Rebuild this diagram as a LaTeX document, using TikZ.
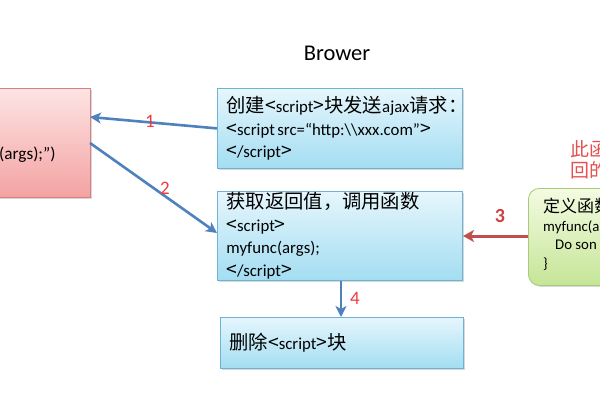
\documentclass[tikz,border=0pt]{standalone}
\usepackage{fontspec}
\setmainfont{Carlito}
\newfontfamily\cjk{Noto Sans CJK SC}[Scale=1.15]
\usetikzlibrary{arrows.meta,shadows}
\newcommand\zh[1]{{\cjk #1}}
\newcommand\ltag{{\cjk <}}
\newcommand\rtag{{\cjk >}}
\definecolor{blueborder}{HTML}{6FB3D2}
\definecolor{bluetop}{HTML}{E6F6FD}
\definecolor{bluebot}{HTML}{A3DDF2}
\definecolor{redborder}{HTML}{D88080}
\definecolor{redtop}{HTML}{FDE4E4}
\definecolor{redbot}{HTML}{F4A2A2}
\definecolor{greenborder}{HTML}{A9C97C}
\definecolor{greentop}{HTML}{F4FBE1}
\definecolor{greenbot}{HTML}{C5E597}
\definecolor{arrowblue}{HTML}{4F81BD}
\definecolor{arrowred}{HTML}{C0504D}
\definecolor{numred}{HTML}{F03C3C}
\definecolor{notered}{HTML}{E65050}
\tikzset{
  boxshadow/.style={drop shadow={shadow xshift=1.5pt,shadow yshift=-1.5pt,opacity=0.3}},
  bluebox/.style={draw=blueborder, line width=0.8pt, top color=bluetop, bottom color=bluebot,
    boxshadow, anchor=north west, inner xsep=9pt, inner ysep=0pt, align=left,
    font=\fontsize{16.8}{22.5}\selectfont},
  conn/.style={draw=arrowblue, line width=2.6pt, -{Stealth[length=11pt,width=11pt,inset=3pt]}},
  connred/.style={draw=arrowred, line width=3pt, -{Stealth[length=11pt,width=12pt,inset=3pt]}},
  num/.style={text=numred, font=\fontsize{19}{19}\selectfont}
}
\begin{document}
\begin{tikzpicture}[x=1pt,y=-1pt]
\useasboundingbox (0,0) rectangle (600,400);
\fill[white] (0,0) rectangle (600,400);
% title
\node (title) at (337,53) {\fontsize{22.5}{22.5}\selectfont Brower};
% left red box
\node (R) [draw=redborder, line width=0.8pt, top color=redtop, bottom color=redbot, boxshadow,
  anchor=north west, minimum width=115pt, minimum height=109pt, inner sep=0pt] at (-25,88) {};
\node (Rtext) [anchor=west, inner sep=0pt, font=\fontsize{17.2}{22.5}\selectfont] at (-1,155) {(args);”)};
% blue boxes
\node (A) [bluebox, text width=227pt, minimum height=80pt] at (217,88)
  {\zh{创建}\ltag script\rtag\zh{块发送}ajax\zh{请求：}\\
   \ltag script\hspace{2.5pt}src=“http:\textbackslash\textbackslash xxx.com”\rtag\\
   \ltag/script\rtag};
\node (B) [bluebox, text width=227pt, minimum height=89pt] at (217,191)
  {\zh{获取返回值，调用函数}\\
   \ltag script\rtag\\
   myfunc(args);\\
   \ltag/script\rtag};
\node (C) [bluebox, text width=225pt, minimum height=51pt] at (220,317)
  {\zh{删除}\ltag script\rtag\zh{块}};
% green box
\node (G) [draw=greenborder, line width=0.8pt, top color=greentop, bottom color=greenbot, boxshadow,
  rounded corners=11pt, anchor=north west, minimum width=100pt, minimum height=97pt, inner sep=0pt] at (528,188) {};
\node (Gtext) [anchor=north west, inner sep=0pt, align=left, font=\fontsize{14.8}{18.6}\selectfont] at (543,198)
  {\zh{定义函数}\\
   myfunc(a\\
   \hspace*{12pt}Do son\\
   \}};
% red note
\node (note) [anchor=west, inner sep=0pt, align=left, text=notered, font=\fontsize{16.5}{20.5}\selectfont] at (570,160)
  {\zh{此函}\\ \zh{回的}};
% connectors
\coordinate (r1) at (90,117);
\coordinate (r2) at (90,143);
\coordinate (b2) at (217,233);
\coordinate (g3) at (528,236);
\coordinate (b3) at (463,236);
\draw[conn] (A.west) -- (r1);
\draw[conn] (r2) -- (b2);
\draw[connred] (g3) -- (b3);
\draw[conn] (B.south -| 341,0) -- (C.north -| 341,0);
% numbers
\node (n1) [num] at (150,121) {1};
\node (n2) [num] at (165,188) {2};
\node (n3) [num, text=arrowred!80!red, font=\fontsize{20}{20}\selectfont\bfseries] at (500,216) {3};
\node (n4) [num] at (355,298) {4};
\end{tikzpicture}
\end{document}
